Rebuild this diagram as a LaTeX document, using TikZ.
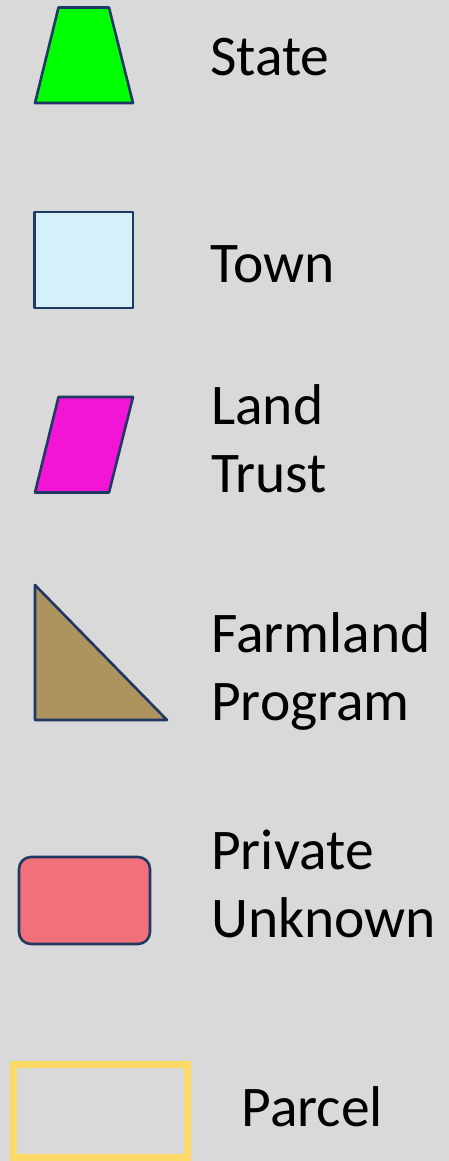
\documentclass[tikz,border=0pt]{standalone}
\usepackage{fontspec}
\setmainfont{Carlito}
\definecolor{bg}{HTML}{D9D9D9}
\definecolor{edge}{HTML}{1F3864}
\definecolor{stategreen}{HTML}{00FF00}
\definecolor{townblue}{HTML}{D4F1FA}
\definecolor{trustmag}{HTML}{F215D6}
\definecolor{farmbrown}{HTML}{AD945E}
\definecolor{privpink}{HTML}{F27079}
\definecolor{parcelyellow}{HTML}{FFD966}
\tikzset{
  sym/.style={draw=edge, line width=2.6pt, line join=round},
  lbl/.style={anchor=base west, inner sep=0pt, align=left, font=\fontsize{57.5}{68}\selectfont}
}
\begin{document}
\begin{tikzpicture}[x=1pt,y=-1pt]
\fill[bg] (0,0) rectangle (449,1161);
\useasboundingbox (0,0) rectangle (449,1161);
% State
\draw[sym, fill=stategreen] (58.5,7.5) -- (109,7.5) -- (133,103) -- (35,103) -- cycle;
\node[lbl] (state) at (210,75.7) {State};
% Town
\draw[sym, fill=townblue] (34.5,212) rectangle (133,308);
\node[lbl] (town) at (210.5,282.3) {Town};
% Land Trust
\draw[sym, fill=trustmag] (58.5,397) -- (133,397) -- (109,492.5) -- (35,492.5) -- cycle;
\node[lbl] (trust) at (211,492.7) {Land\\Trust};
% Farmland Program
\draw[sym, fill=farmbrown] (35,585) -- (167,720) -- (35,720) -- cycle;
\node[lbl] (farm) at (211,720.3) {Farmland\\Program};
% Private Unknown
\draw[sym, fill=privpink, rounded corners=12pt] (19,857) rectangle (150,944);
\node[lbl] (priv) at (211,937.5) {Private\\Unknown};
% Parcel
\draw[draw=parcelyellow, line width=7.3pt] (13.7,1064.7) rectangle (187.3,1157.8);
\node[lbl] (parcel) at (241.5,1126.7) {Parcel};
\end{tikzpicture}
\end{document}
